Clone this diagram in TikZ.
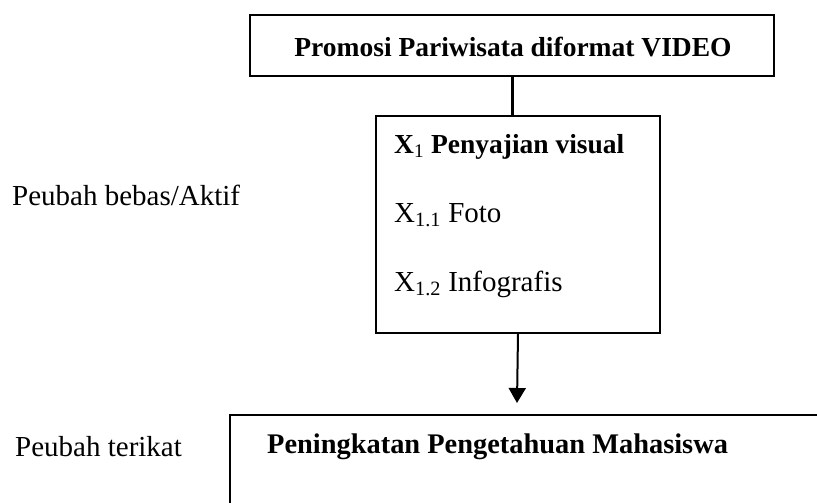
\documentclass[tikz,border=0pt]{standalone}
\usepackage{fontspec}
\setmainfont{Liberation Serif}
\usetikzlibrary{arrows.meta}
\begin{document}
\begin{tikzpicture}[x=1pt,y=-1pt,
  boxline/.style={draw=black,line width=2pt,inner sep=0pt,anchor=north west},
  lbl/.style={anchor=base west,inner sep=0pt,font=\fontsize{29}{34}\selectfont},
  blbl/.style={anchor=base west,inner sep=0pt,font=\fontsize{27.5}{33}\selectfont\bfseries},
]
\useasboundingbox (0,0) rectangle (817,503);
\clip (0,0) rectangle (817,503);
\fill[white] (0,0) rectangle (817,503);
% boxes
\node[boxline, minimum width=524pt, minimum height=61pt] (top) at (249,14) {};
\node[boxline, minimum width=284pt, minimum height=217pt] (mid) at (375,115) {};
\node[boxline, minimum width=700pt, minimum height=200pt] (bot) at (229,414) {};
% texts
\node[blbl, anchor=base] (ttop) at (513,57) {Promosi Pariwisata diformat VIDEO};
\node[blbl] (x1) at (394,153) {X\textsubscript{\normalfont 1} Penyajian visual};
\node[lbl] (x11) at (394,222) {X\textsubscript{1.1} Foto};
\node[lbl] (x12) at (394,291) {X\textsubscript{1.2} Infografis};
\node[blbl, font=\fontsize{28.4}{33}\selectfont\bfseries] (tbot) at (267,453) {Peningkatan Pengetahuan Mahasiswa};
\node[lbl] (bebas) at (12,205) {Peubah bebas/Aktif};
\node[lbl] (terikat) at (15,456) {Peubah terikat};
% connectors
\coordinate (tip) at (517,403);
\draw[line width=3pt] (top.south) -- (top.south |- mid.north);
\draw[line width=2pt, -{Triangle[length=15pt,width=17pt]}] (mid.south) -- (tip);
\end{tikzpicture}
\end{document}
